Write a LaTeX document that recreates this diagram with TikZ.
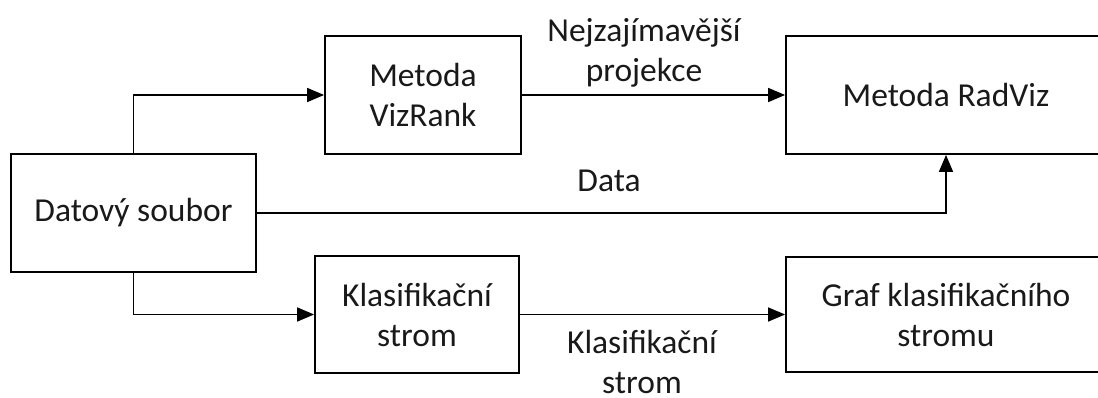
\documentclass[tikz,border=0pt]{standalone}
\usepackage{fontspec}
\setmainfont{Carlito}
\usetikzlibrary{arrows.meta}
\begin{document}
\begin{tikzpicture}[x=1pt,y=-1pt,
  txt/.style={font=\fontsize{33.5}{40}\selectfont, text=black!90},
  box/.style={draw, line width=1.8pt, inner sep=0pt, align=center, txt},
  lbl/.style={inner sep=0pt, align=center, txt},
  conn/.style={line width=1.6pt, -{Triangle[length=17pt,width=14pt]}}]
\useasboundingbox (0,0) rectangle (1098,398);
\node[box, minimum width=245pt, minimum height=118pt] (ds) at (133.5,213) {Datový soubor};
\node[box, minimum width=196pt, minimum height=118pt] (vr) at (423,95) {Metoda\\VizRank};
\node[box, minimum width=320pt, minimum height=118pt] (rv) at (946,95) {Metoda RadViz};
\node[box, minimum width=204pt, minimum height=117pt] (kl) at (417,314.5) {Klasifikační\\strom};
\node[box, minimum width=320pt, minimum height=115pt] (gr) at (946,314.5) {Graf klasifikačního\\stromu};
\node[lbl, anchor=base] (l1) at (644,82) {Nejzajímavější\\projekce};
\node[lbl, anchor=base] (l2) at (609,192) {Data};
\node[lbl, anchor=base] (l3) at (642,393) {Klasifikační\\strom};
\draw[conn] (ds.north) |- (vr.west);
\draw[conn] (vr.east) -- (rv.west);
\draw[conn] (ds.east) -- (ds.east -| rv.south) -- (rv.south);
\draw[conn] (ds.south) |- (kl.west);
\draw[conn] (kl.east) -- (gr.west);
\end{tikzpicture}
\end{document}
